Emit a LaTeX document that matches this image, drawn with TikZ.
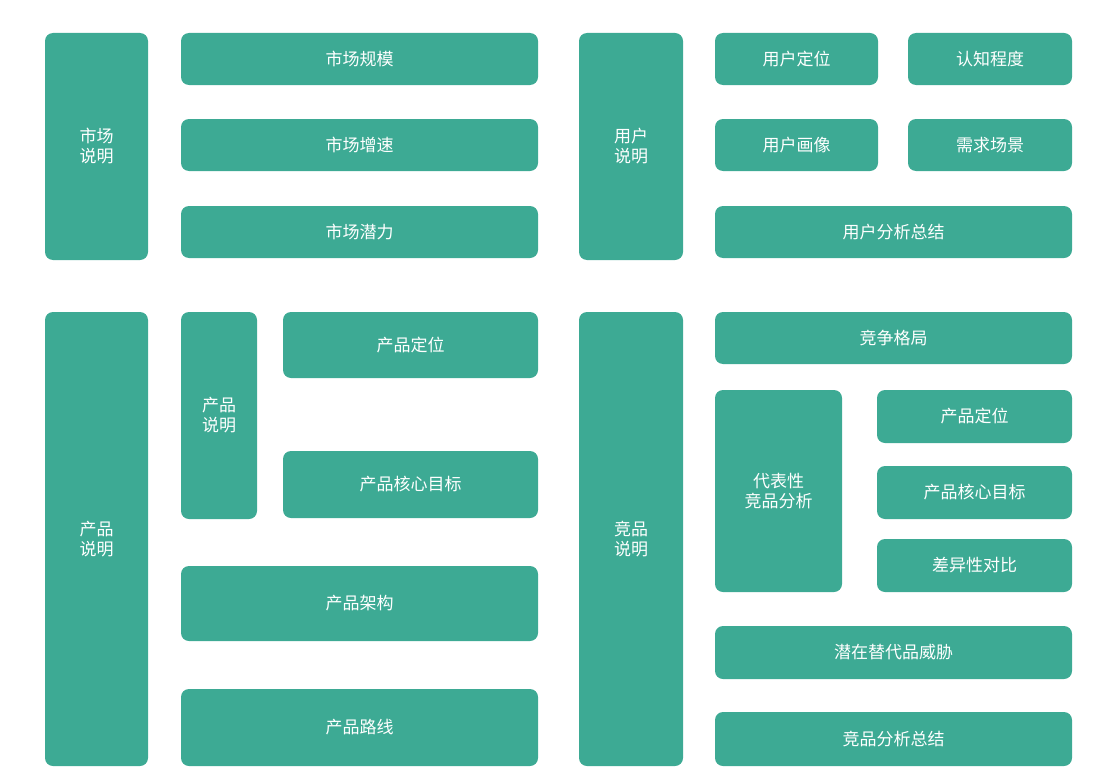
\documentclass[tikz,border=0pt]{standalone}
\usepackage{fontspec}
\newfontfamily\cjk{Noto Sans CJK SC}
\definecolor{tealbox}{HTML}{3DAA94}
\tikzset{bx/.style={fill=tealbox,rounded corners=8pt,text=white,font=\cjk\fontsize{17}{20}\selectfont,align=center,inner sep=0pt}}
\newcommand{\bx}[6]{\node[bx,minimum width=#4pt-#2pt,minimum height=#5pt-#3pt] (#1) at ({(#2+#4)/2*1pt},{-(#3+#5)/2*1pt}) {#6};}
\begin{document}
\begin{tikzpicture}[x=1pt,y=1pt]
\useasboundingbox (0,0) rectangle (1108,-784);
\bx{a}{45}{33}{148}{260}{市场\\说明}
\bx{a1}{181}{33}{538}{85}{市场规模}
\bx{a2}{181}{119}{538}{171}{市场增速}
\bx{a3}{181}{206}{538}{258}{市场潜力}
\bx{b}{579}{33}{683}{260}{用户\\说明}
\bx{b1}{715}{33}{878}{85}{用户定位}
\bx{b2}{908}{33}{1072}{85}{认知程度}
\bx{b3}{715}{119}{878}{171}{用户画像}
\bx{b4}{908}{119}{1072}{171}{需求场景}
\bx{b5}{715}{206}{1072}{258}{用户分析总结}
\bx{c}{45}{312}{148}{766}{产品\\说明}
\bx{c0}{181}{312}{257}{519}{产品\\说明}
\bx{c1}{283}{312}{538}{378}{产品定位}
\bx{c2}{283}{451}{538}{518}{产品核心目标}
\bx{c3}{181}{566}{538}{641}{产品架构}
\bx{c4}{181}{689}{538}{766}{产品路线}
\bx{d}{579}{312}{683}{766}{竞品\\说明}
\bx{d1}{715}{312}{1072}{364}{竞争格局}
\bx{d0}{715}{390}{842}{592}{代表性\\竞品分析}
\bx{d2}{877}{390}{1072}{443}{产品定位}
\bx{d3}{877}{466}{1072}{519}{产品核心目标}
\bx{d4}{877}{539}{1072}{592}{差异性对比}
\bx{d5}{715}{626}{1072}{679}{潜在替代品威胁}
\bx{d6}{715}{712}{1072}{766}{竞品分析总结}
\end{tikzpicture}
\end{document}
